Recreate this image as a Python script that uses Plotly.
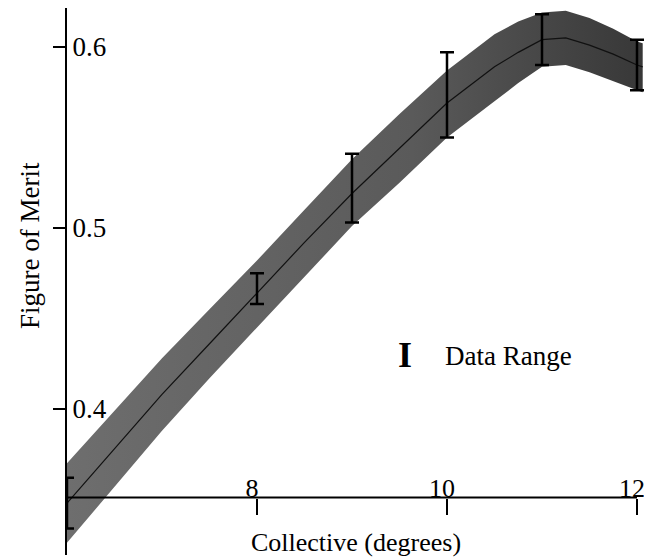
import plotly.graph_objects as go

# Band (range of computed figure of merit) vs collective angle
collective = [6.0, 6.5, 7.0, 7.5, 8.0, 8.5, 9.0, 9.5, 10.0, 10.5, 10.75, 11.0, 11.25, 11.5, 11.75, 12.0, 12.06]
fm_upper = [0.370, 0.399, 0.428, 0.455, 0.482, 0.510, 0.538, 0.563, 0.587, 0.607, 0.614, 0.619, 0.620, 0.616, 0.610, 0.603, 0.602]
fm_lower = [0.326, 0.357, 0.388, 0.417, 0.445, 0.473, 0.501, 0.525, 0.550, 0.570, 0.580, 0.589, 0.590, 0.586, 0.581, 0.576, 0.575]
fm_center = [0.348, 0.378, 0.408, 0.436, 0.464, 0.492, 0.519, 0.544, 0.569, 0.589, 0.597, 0.604, 0.605, 0.601, 0.596, 0.590, 0.589]

# Data range bars
bar_x = [6, 8, 9, 10, 11, 12]
bar_low = [0.334, 0.458, 0.503, 0.550, 0.590, 0.576]
bar_high = [0.362, 0.475, 0.541, 0.597, 0.618, 0.604]

x_ticks = [8, 10, 12]
y_ticks = [0.4, 0.5, 0.6]
y_tick_text = ["0.4", "0.5", "0.6"]

FONT = "Liberation Serif, Times New Roman, serif"
X_AXIS_POS = 0.105  # fraction of plot height where the x axis crosses

fig = go.Figure()
fig.add_trace(go.Scatter(x=collective, y=fm_upper, mode="lines",
                         line=dict(color="rgba(0,0,0,0)", width=0), showlegend=False, hoverinfo="skip"))
fig.add_trace(go.Scatter(x=collective, y=fm_lower, mode="lines", fill="tonexty",
                         fillcolor="#5a5a5a",
                         fillgradient=dict(type="horizontal",
                                           colorscale=[[0, "#6e6e6e"], [0.6, "#5a5a5a"], [1, "#383838"]]),
                         line=dict(color="rgba(0,0,0,0)", width=0),
                         showlegend=False, hoverinfo="skip"))
fig.add_trace(go.Scatter(x=collective, y=fm_center, mode="lines",
                         line=dict(color="#111111", width=1.2), showlegend=False, hoverinfo="skip"))

mid = [(h + l) / 2 for h, l in zip(bar_high, bar_low)]
fig.add_trace(go.Scatter(
    x=bar_x, y=mid, mode="markers",
    marker=dict(size=1, color="rgba(0,0,0,0)"),
    error_y=dict(type="data", symmetric=False,
                 array=[h - m for h, m in zip(bar_high, mid)],
                 arrayminus=[m - l for m, l in zip(mid, bar_low)],
                 color="black", thickness=2.5, width=7),
    cliponaxis=False, showlegend=False, hoverinfo="skip"))

fig.update_layout(
    width=652, height=558,
    margin=dict(l=59, r=2, t=0, b=11),
    paper_bgcolor="white", plot_bgcolor="white",
    font=dict(family=FONT, size=27, color="black"),
    xaxis=dict(range=[6, 12.221], anchor="free", position=X_AXIS_POS,
               tickvals=x_ticks, ticks="outside", ticklen=16, tickwidth=2, tickcolor="black",
               ticklabelposition="inside", ticklabelstandoff=-8, ticklabelshift=-5,
               showline=False, showgrid=False, zeroline=False,
               tickfont=dict(size=26, family=FONT, color="black")),
    yaxis=dict(range=[0.3193, 0.6215], tickvals=y_ticks, ticktext=y_tick_text,
               ticks="outside", ticklen=12, tickwidth=2, tickcolor="black",
               ticklabelposition="inside", ticklabelstandoff=8,
               showline=True, linecolor="black", linewidth=2,
               showgrid=False, zeroline=False,
               tickfont=dict(size=27, family=FONT, color="black")),
    shapes=[
        dict(type="line", xref="x", yref="paper", x0=6, x1=12, y0=X_AXIS_POS, y1=X_AXIS_POS,
             line=dict(color="black", width=2), layer="above"),
    ],
    annotations=[
        dict(text="Figure of Merit", xref="paper", yref="paper", x=-0.0626, y=0.565,
             textangle=-90, showarrow=False, font=dict(size=27, family=FONT, color="black"),
             xanchor="center", yanchor="middle"),
        dict(text="Collective (degrees)", xref="paper", yref="paper", x=0.4890, y=0.022,
             showarrow=False, font=dict(size=26, family=FONT, color="black"),
             xanchor="center", yanchor="middle"),
        dict(text="<b>I</b>", xref="paper", yref="paper", x=0.5719, y=0.366,
             showarrow=False, font=dict(size=36, family=FONT, color="black"),
             xanchor="center", yanchor="middle"),
        dict(text="Data Range", xref="paper", yref="paper", x=0.6362, y=0.364,
             showarrow=False, font=dict(size=27, family=FONT, color="black"),
             xanchor="left", yanchor="middle"),
    ],
)

fig.write_html("out.html")
